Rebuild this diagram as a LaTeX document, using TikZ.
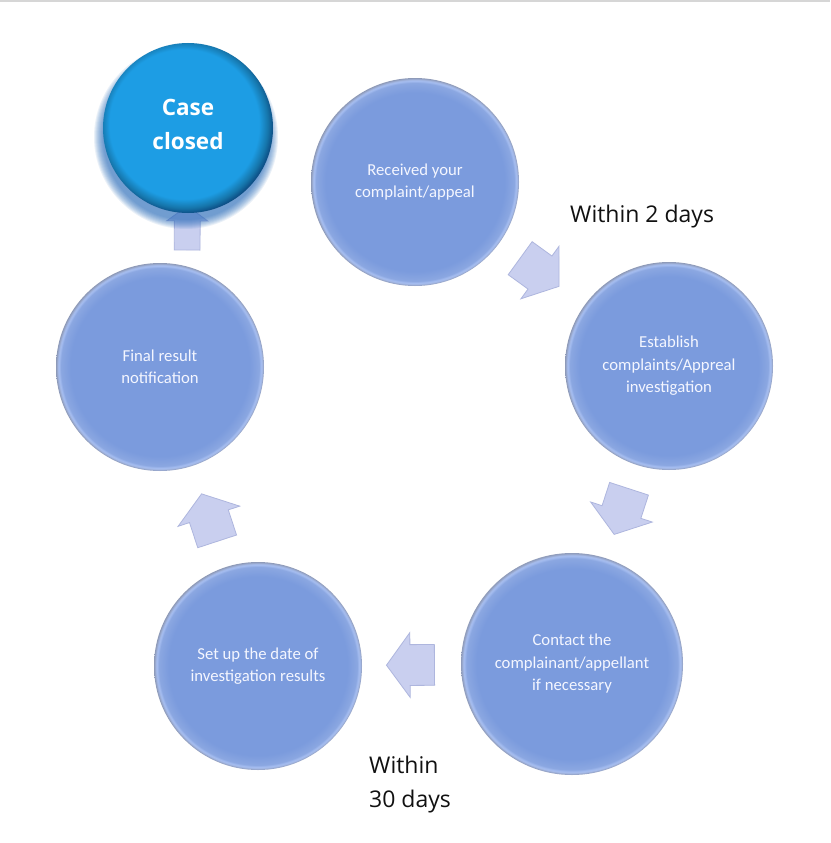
\documentclass[tikz,border=0pt]{standalone}
\usepackage{fontspec}
\setmainfont{Carlito}
\newfontfamily\labelfont{Open Sans}
\usetikzlibrary{shapes.arrows,backgrounds,calc}
\definecolor{stepfill}{HTML}{7B9BDD}
\definecolor{steprim}{HTML}{8E9AB8}
\definecolor{stephl}{HTML}{A9C0F2}
\definecolor{ccfill}{HTML}{1D9DE4}
\definecolor{ccrim}{HTML}{0D4F86}
\definecolor{ccshadow}{HTML}{1F64B8}
\definecolor{arrowfill}{HTML}{C9CFEF}
\definecolor{arrowedge}{HTML}{AEB6DE}
\definecolor{topline}{HTML}{D6D6D6}
\definecolor{labeltext}{HTML}{111111}
\definecolor{steptext}{HTML}{F4F6FF}
\pgfdeclareradialshading{stepshade}{\pgfpoint{0bp}{0bp}}{%
  color(0bp)=(stepfill); color(21.5bp)=(stepfill); color(23.8bp)=(stepfill!88!white);
  color(24.4bp)=(stephl); color(25bp)=(steprim); color(50bp)=(steprim)}
\pgfdeclareradialshading{ccshade}{\pgfpoint{-2bp}{2bp}}{%
  color(0bp)=(ccfill); color(22bp)=(ccfill); color(24.5bp)=(ccfill!75!black);
  color(26bp)=(ccrim); color(50bp)=(ccrim)}
\tikzset{
  stepcircle/.style={circle, minimum size=208pt, inner sep=0pt, shading=stepshade,
    text=steptext, align=center, font=\fontsize{16.7}{22.5}\selectfont},
  casecircle/.style={circle, minimum size=170pt, inner sep=0pt, shading=ccshade},
  blockarrow/.style={single arrow, fill=arrowfill, draw=arrowedge, line width=0.8pt,
    minimum height=48pt, inner xsep=0pt, inner ysep=20pt, single arrow head extend=12pt,
    single arrow tip angle=108, sloped, allow upside down, anchor=tail, pos=0.25},
  outerlabel/.style={text=labeltext, inner sep=0pt, font=\labelfont\fontsize{23}{34}\selectfont}
}
\begin{document}
\begin{tikzpicture}[x=1pt,y=-1pt]
\useasboundingbox (0,0) rectangle (830,843);

\node[stepcircle] (rec) at (415,182) {Received your\\complaint/appeal};
\node[stepcircle] (est) at (669,366) {Establish\\complaints/Appreal\\investigation};
\node[stepcircle, minimum size=222pt] (con) at (572,664) {Contact the\\complainant/appellant\\if necessary};
\node[stepcircle] (set) at (258,666) {Set up the date of\\investigation results};
\node[stepcircle] (fin) at (160,367) {Final result\\notification};
\node[casecircle] (cc) at (188,128) {};
\node[text=white, align=center, inner sep=0pt, font=\labelfont\bfseries\fontsize{22.5}{34}\selectfont]
  (cctext) at ($(cc.center)+(0,-4)$) {Case\\closed};

\node[outerlabel, anchor=base west] (l2) at (570,222) {Within 2 days};
\node[outerlabel, anchor=north west, align=left] (l30) at (369,756) {Within\\30 days};

\begin{scope}[on background layer]
  \fill[white] (0,0) rectangle (830,843);
  \fill[topline] (0,0) rectangle (830,2.5);
  \path (rec) -- node[blockarrow, pos=0.24] (a1) {} (est);
  \path (est) -- node[blockarrow] (a2) {} (con);
  \path (con) -- node[blockarrow, pos=0.263] (a3) {} (set);
  \path (set) -- node[blockarrow, minimum height=50pt] (a4) {} (fin);
  \path (fin.75) -- node[blockarrow, pos=0.3, minimum height=44pt, inner ysep=12.5pt,
        single arrow head extend=7.5pt] (a5) {} (cc);
  \foreach \i in {0,...,9}
    \fill[ccshadow, opacity=0.09] ($(cc.center)+(-2,9)$) circle ({92-\i});
\end{scope}
\end{tikzpicture}
\end{document}
